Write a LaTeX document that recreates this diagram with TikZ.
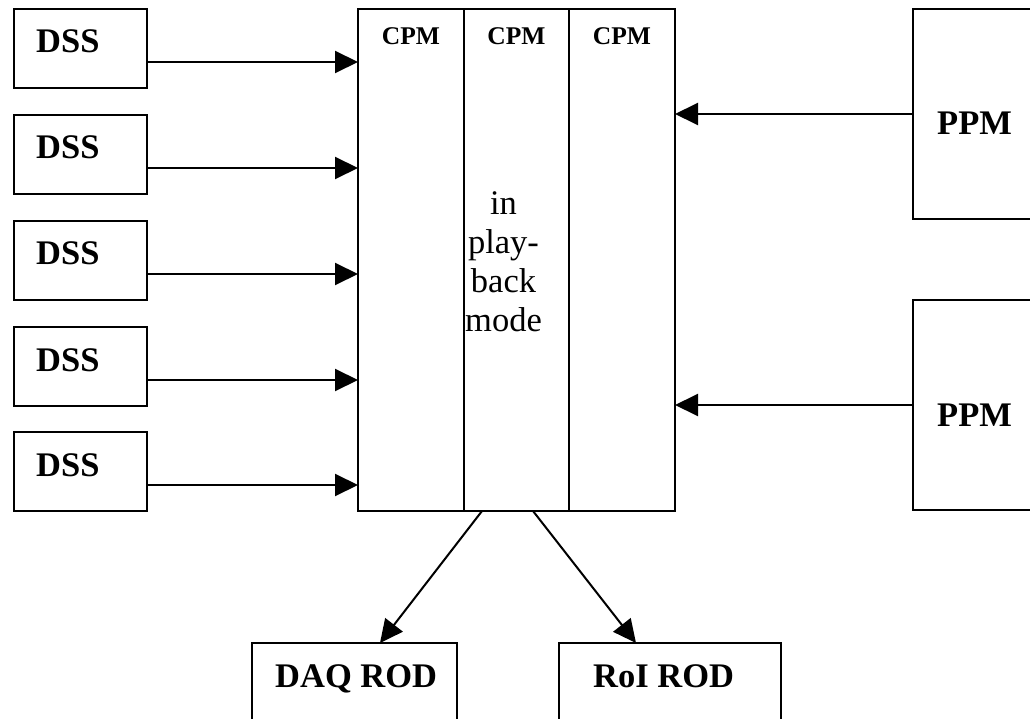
\documentclass[tikz,border=0pt]{standalone}
\usepackage{fontspec}
\setmainfont{Liberation Serif}
\usetikzlibrary{arrows.meta}
\begin{document}
\begin{tikzpicture}[x=1pt,y=-1pt,
  box/.style={draw,line width=2pt,inner sep=0pt,outer sep=0pt},
  arr/.style={line width=2pt,-{Triangle[length=23pt,width=22pt]}},
  bigtxt/.style={font=\fontsize{34.5}{40}\selectfont\bfseries,inner sep=0pt,anchor=base west},
  cpmtxt/.style={font=\fontsize{25.5}{30}\selectfont\bfseries,inner sep=0pt,anchor=base},
  midtxt/.style={font=\fontsize{34.5}{39}\selectfont,inner sep=0pt,align=center},
  dssbox/.style={box,minimum width=133pt,minimum height=79pt}
]
\useasboundingbox (0,0) rectangle (1030,719);
\clip (0,0) rectangle (1030,719);
% DSS boxes
\foreach \i/\y in {1/48.5,2/154.5,3/260.5,4/366.5,5/471.5}{
  \node[dssbox] (dss\i) at (80.5,\y) {};
  \node[bigtxt] (dsst\i) at ([xshift=22pt,yshift=-44pt]dss\i.north west) {DSS};
}
% CPM boxes
\node[box,minimum width=106pt,minimum height=502pt] (cpm1) at (411,260) {};
\node[box,minimum width=105pt,minimum height=502pt] (cpm2) at (516.5,260) {};
\node[box,minimum width=106pt,minimum height=502pt] (cpm3) at (622,260) {};
\node[cpmtxt] (cpmt1) at ([yshift=-36pt]cpm1.north) {CPM};
\node[cpmtxt] (cpmt2) at ([yshift=-36pt]cpm2.north) {CPM};
\node[cpmtxt] (cpmt3) at ([yshift=-36pt]cpm3.north) {CPM};
\node[midtxt] (pb) at ([xshift=-13pt,yshift=-2pt]cpm2.center) {in\\play-\\back\\mode};
% PPM boxes
\node[box,minimum width=200pt,minimum height=210pt] (ppm1) at (1013,114) {};
\node[box,minimum width=200pt,minimum height=210pt] (ppm2) at (1013,405) {};
\node[bigtxt] (ppmt1) at ([xshift=24pt,yshift=-126pt]ppm1.north west) {PPM};
\node[bigtxt] (ppmt2) at ([xshift=24pt,yshift=-126pt]ppm2.north west) {PPM};
% ROD boxes
\node[box,minimum width=205pt,minimum height=140pt] (daq) at (354.5,713) {};
\node[box,minimum width=222pt,minimum height=140pt] (roi) at (670,713) {};
\node[bigtxt] (daqt) at ([xshift=23pt,yshift=-44pt]daq.north west) {DAQ ROD};
\node[bigtxt] (roit) at ([xshift=34pt,yshift=-44pt]roi.north west) {RoI ROD};
% connectors DSS -> CPM
\foreach \i in {1,...,5}{
  \coordinate (s\i) at ([yshift=-13.5pt]dss\i.east);
  \draw[arr] (s\i) -- (s\i -| cpm1.west);
}
% PPM -> CPM
\draw[arr] (ppm1.west) -- (ppm1.west -| cpm3.east);
\draw[arr] (ppm2.west) -- (ppm2.west -| cpm3.east);
% CPM -> RODs
\draw[arr] ([xshift=-34.5pt]cpm2.south) -- ([xshift=25.5pt]daq.north);
\draw[arr] ([xshift=16.5pt]cpm2.south) -- ([xshift=-34pt]roi.north);
\end{tikzpicture}
\end{document}
